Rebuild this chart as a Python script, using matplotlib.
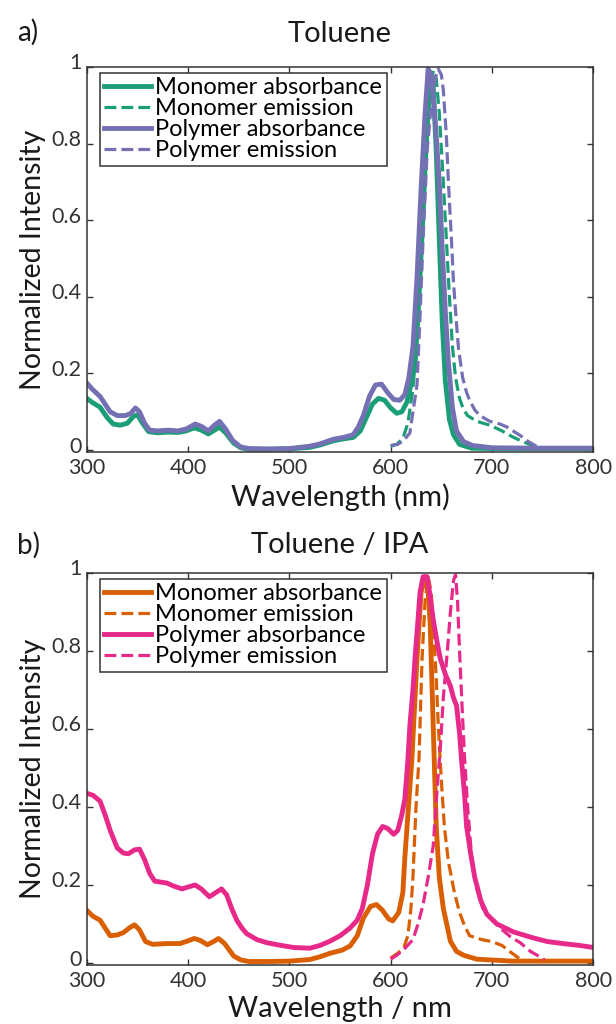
import matplotlib
matplotlib.use("Agg")
import matplotlib.pyplot as plt
import matplotlib.transforms as mtransforms

# ---------- DATA ----------
# a) Toluene
mono_abs_tol_wl = [300, 305, 313, 320, 326, 333, 340, 346, 350, 355, 361, 370, 380, 390, 398, 406, 413, 420, 426, 431,
                   437, 445, 452, 460, 480, 500, 520, 530, 543, 555, 563, 570, 576, 582, 588, 594, 600, 606, 611, 616,
                   620, 624, 628, 632, 635, 638, 640, 642, 645, 648, 651, 654, 658, 662, 668, 680, 700, 750, 800]
mono_abs_tol = [0.135, 0.125, 0.112, 0.085, 0.068, 0.065, 0.07, 0.088, 0.092, 0.07, 0.048, 0.045, 0.047, 0.046, 0.05,
                0.058, 0.052, 0.042, 0.052, 0.06, 0.045, 0.018, 0.006, 0.002, 0.002, 0.003, 0.007, 0.013, 0.024, 0.03,
                0.033, 0.05, 0.085, 0.12, 0.135, 0.13, 0.11, 0.096, 0.1, 0.125, 0.17, 0.22, 0.4, 0.62, 0.8, 0.93,
                0.985, 0.95, 0.78, 0.55, 0.33, 0.18, 0.08, 0.04, 0.015, 0.005, 0.004, 0.004, 0.004]

mono_em_tol_wl = [600, 606, 612, 617, 622, 626, 630, 634, 638, 642, 645, 648, 652, 655, 658, 661, 664, 668, 672, 676,
                  685, 698, 710, 720, 728, 740, 750]
mono_em_tol = [0.01, 0.015, 0.03, 0.07, 0.16, 0.3, 0.5, 0.72, 0.9, 0.99, 0.97, 0.88, 0.7, 0.55, 0.4, 0.27, 0.19,
               0.135, 0.105, 0.09, 0.075, 0.065, 0.05, 0.035, 0.025, 0.012, 0.006]

poly_abs_tol_wl = [300, 305, 313, 318, 323, 330, 338, 343, 348, 352, 357, 362, 370, 380, 390, 398, 407, 413, 420, 426,
                   431, 437, 444, 452, 460, 480, 500, 520, 530, 543, 555, 563, 568, 573, 579, 585, 591, 597, 603, 609,
                   614, 618, 622, 626, 630, 634, 637, 640, 644, 648, 651, 654, 657, 661, 665, 672, 681, 700, 750, 800]
poly_abs_tol = [0.175, 0.16, 0.14, 0.12, 0.1, 0.09, 0.09, 0.095, 0.11, 0.1, 0.07, 0.052, 0.05, 0.052, 0.05, 0.055,
                0.068, 0.062, 0.05, 0.065, 0.075, 0.055, 0.025, 0.008, 0.004, 0.003, 0.004, 0.01, 0.016, 0.028, 0.034,
                0.04, 0.06, 0.09, 0.14, 0.17, 0.172, 0.15, 0.132, 0.13, 0.145, 0.19, 0.27, 0.45, 0.68, 0.88, 0.995,
                0.98, 0.86, 0.7, 0.52, 0.36, 0.23, 0.11, 0.05, 0.022, 0.012, 0.006, 0.005, 0.005]

poly_em_tol_wl = [600, 607, 613, 619, 622, 626, 629, 632, 636, 640, 644, 647, 650, 652, 655, 657, 660, 662, 665, 667,
                  671, 675, 678, 683, 688, 698, 708, 715, 722, 728, 736, 744, 750]
poly_em_tol = [0.012, 0.015, 0.025, 0.045, 0.1, 0.17, 0.35, 0.55, 0.78, 0.9, 0.97, 0.995, 0.98, 0.94, 0.82, 0.7, 0.55,
               0.44, 0.33, 0.265, 0.19, 0.15, 0.13, 0.105, 0.09, 0.075, 0.068, 0.06, 0.048, 0.038, 0.022, 0.01, 0.005]

# b) Toluene / IPA
mono_abs_ipa_wl = [300, 306, 313, 318, 323, 330, 336, 342, 347, 352, 358, 365, 379, 392, 400, 406, 412, 419, 425, 430,
                   436, 445, 452, 460, 480, 500, 520, 530, 540, 552, 560, 567, 573, 580, 586, 592, 598, 602, 608, 612,
                   614, 617, 621, 626, 630, 634, 637, 639, 642, 645, 648, 652, 659, 665, 672, 685, 720, 800]
mono_abs_ipa = [0.135, 0.12, 0.11, 0.09, 0.07, 0.072, 0.078, 0.09, 0.098, 0.085, 0.055, 0.048, 0.05, 0.05, 0.057,
                0.063, 0.058, 0.047, 0.055, 0.063, 0.05, 0.018, 0.008, 0.004, 0.004, 0.005, 0.009, 0.016, 0.025, 0.033,
                0.044, 0.07, 0.115, 0.145, 0.15, 0.135, 0.113, 0.108, 0.13, 0.18, 0.27, 0.38, 0.525, 0.78, 0.95, 0.99,
                0.95, 0.87, 0.61, 0.35, 0.22, 0.14, 0.056, 0.03, 0.02, 0.01, 0.005, 0.005]

mono_em_ipa_wl = [600, 607, 613, 617, 620, 622, 625, 628, 631, 634, 637, 640, 642, 645, 647, 650, 653, 657, 663, 668,
                  673, 678, 690, 700, 710, 720, 728, 735]
mono_em_ipa = [0.013, 0.025, 0.04, 0.07, 0.14, 0.22, 0.4, 0.525, 0.78, 0.93, 0.99, 0.95, 0.87, 0.73, 0.61, 0.47, 0.35,
               0.26, 0.18, 0.13, 0.095, 0.07, 0.06, 0.055, 0.045, 0.025, 0.01, 0.005]

poly_abs_ipa_wl = [300, 306, 313, 318, 323, 330, 336, 341, 347, 352, 357, 362, 367, 379, 386, 394, 400, 407, 413, 421,
                   427, 433, 438, 443, 448, 453, 458, 468, 478, 490, 504, 520, 530, 540, 550, 560, 567, 572, 577, 582,
                   587, 592, 597, 603, 607, 611, 614, 617, 619, 622, 624, 627, 629, 632, 636, 639, 642, 646, 649, 654,
                   659, 662, 665, 668, 670, 673, 675, 679, 683, 689, 695, 705, 721, 740, 755, 770, 787, 800]
poly_abs_ipa = [0.435, 0.43, 0.415, 0.38, 0.34, 0.295, 0.282, 0.28, 0.29, 0.292, 0.265, 0.23, 0.21, 0.205, 0.197, 0.19,
                0.195, 0.2, 0.19, 0.17, 0.18, 0.19, 0.175, 0.14, 0.11, 0.09, 0.075, 0.06, 0.052, 0.046, 0.04, 0.038,
                0.045, 0.056, 0.07, 0.09, 0.11, 0.14, 0.2, 0.28, 0.33, 0.35, 0.345, 0.33, 0.34, 0.38, 0.42, 0.52, 0.61,
                0.7, 0.78, 0.88, 0.95, 0.99, 0.99, 0.94, 0.88, 0.82, 0.78, 0.74, 0.71, 0.68, 0.66, 0.59, 0.52, 0.43,
                0.35, 0.28, 0.22, 0.16, 0.125, 0.1, 0.08, 0.065, 0.055, 0.05, 0.045, 0.04]

poly_em_ipa_wl = [600, 606, 613, 622, 627, 632, 637, 642, 646, 649, 652, 656, 659, 662, 664, 666, 668, 671, 673, 676,
                  680, 685, 691, 700, 708, 718, 728, 738, 748, 752]
poly_em_ipa = [0.01, 0.02, 0.035, 0.06, 0.1, 0.15, 0.22, 0.3, 0.45, 0.55, 0.68, 0.8, 0.9, 0.98, 0.995, 0.93, 0.8, 0.63,
               0.525, 0.4, 0.27, 0.19, 0.14, 0.11, 0.09, 0.068, 0.052, 0.03, 0.015, 0.008]

labels = ["Monomer absorbance", "Monomer emission", "Polymer absorbance", "Polymer emission"]
xticks = [300, 400, 500, 600, 700, 800]
yticks = [0, 0.2, 0.4, 0.6, 0.8, 1]
yticklabels = ["0", "0.2", "0.4", "0.6", "0.8", "1"]

# ---------- STYLE ----------
plt.rcParams['font.family'] = ['Lato', 'DejaVu Sans']
AX_COL = "#333333"
TXT_COL = "#1a1a1a"

fig = plt.figure(figsize=(6.16, 10.24), dpi=100)


def panel(rect, curves, colors, title, tag, xlabel, title_pad, tag_y):
    ax = fig.add_axes(rect)
    (w1, y1), (w2, y2), (w3, y3), (w4, y4) = curves
    ax.plot(w1, y1, '-', color=colors[0], lw=3.5, label=labels[0])
    ax.plot(w2, y2, '--', color=colors[0], lw=2.3, label=labels[1])
    ax.plot(w3, y3, '-', color=colors[1], lw=3.5, label=labels[2])
    ax.plot(w4, y4, '--', color=colors[1], lw=2.3, label=labels[3])
    ax.set_xlim(300, 800)
    ax.set_ylim(-0.005, 1.0)
    ax.set_xticks(xticks)
    ax.set_yticks(yticks)
    ax.set_yticklabels(yticklabels)
    ax.tick_params(direction='in', top=True, right=True, length=4, width=1,
                   labelsize=15.5, colors=AX_COL, pad=4)
    # y tick labels sit slightly above their ticks, as in the original
    off = mtransforms.ScaledTranslation(0, 4 / 72, fig.dpi_scale_trans)
    for lab in ax.get_yticklabels():
        lab.set_transform(lab.get_transform() + off)
    for s in ax.spines.values():
        s.set_color(AX_COL)
        s.set_linewidth(1.1)
    ax.set_xlabel(xlabel, fontsize=21, color=TXT_COL, labelpad=4)
    ax.set_ylabel("Normalized Intensity", fontsize=20.5, color=TXT_COL, labelpad=4)
    ax.set_title(title, fontsize=21, pad=title_pad, color=TXT_COL)
    ax.text(-0.137, tag_y, tag, transform=ax.transAxes, fontsize=20, va='center', color=TXT_COL)
    leg = ax.legend(loc='upper left', bbox_to_anchor=(0.025, 0.985), borderaxespad=0,
                    fontsize=17, handlelength=2.0, handletextpad=0.15, labelspacing=0.0,
                    borderpad=0.2, fancybox=False, framealpha=1)
    leg.get_frame().set_edgecolor(AX_COL)
    leg.get_frame().set_linewidth(1.1)
    return ax


panel([0.141, 0.5586, 0.822, 0.376],
      [(mono_abs_tol_wl, mono_abs_tol), (mono_em_tol_wl, mono_em_tol),
       (poly_abs_tol_wl, poly_abs_tol), (poly_em_tol_wl, poly_em_tol)],
      ["#1b9e77", "#7570b3"], "Toluene", "a)", "Wavelength (nm)", 18, 1.09)

panel([0.141, 0.0576, 0.822, 0.383],
      [(mono_abs_ipa_wl, mono_abs_ipa), (mono_em_ipa_wl, mono_em_ipa),
       (poly_abs_ipa_wl, poly_abs_ipa), (poly_em_ipa_wl, poly_em_ipa)],
      ["#d95f02", "#e7298a"], "Toluene / IPA", "b)", "Wavelength / nm", 14, 1.07)

plt.savefig("out.png", dpi=100)
